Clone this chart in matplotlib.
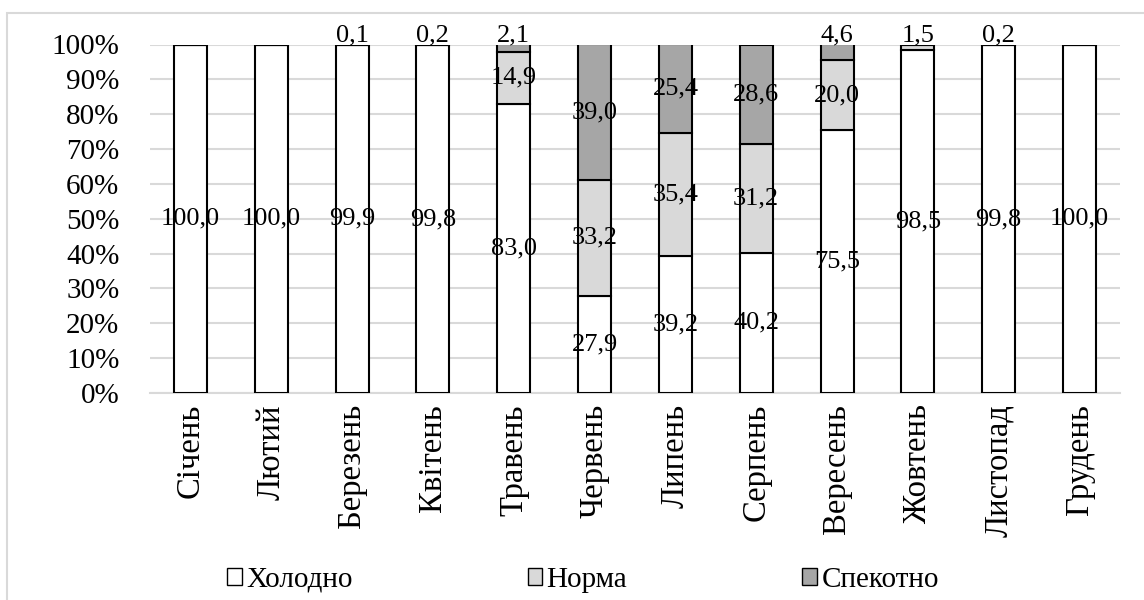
import matplotlib
matplotlib.use("Agg")
import matplotlib.pyplot as plt
from matplotlib.patches import Patch, Rectangle
import numpy as np

plt.rcParams['font.family'] = ['Liberation Serif', 'DejaVu Serif']

months = ["Січень", "Лютий", "Березень", "Квітень", "Травень", "Червень",
          "Липень", "Серпень", "Вересень", "Жовтень", "Листопад", "Грудень"]
series_names = ["Холодно", "Норма", "Спекотно"]
cold = [100.0, 100.0, 99.9, 99.8, 83.0, 27.9, 39.2, 40.2, 75.5, 98.5, 99.8, 100.0]
norm = [0.0, 0.0, 0.1, 0.2, 14.9, 33.2, 35.4, 31.2, 20.0, 1.5, 0.2, 0.0]
hot = [0.0, 0.0, 0.0, 0.0, 2.1, 39.0, 25.4, 28.6, 4.6, 0.0, 0.0, 0.0]
colors = ["#ffffff", "#d9d9d9", "#a6a6a6"]

fig = plt.figure(figsize=(11.44, 6), dpi=100)
ax = fig.add_axes([150/1144, 207/600, 970/1144, 348.5/600])

x = np.arange(len(months))
bottom = np.zeros(len(months))
for vals, col, name in zip([cold, norm, hot], colors, series_names):
    vals = np.array(vals)
    ax.bar(x, vals, bottom=bottom, width=0.41, color=col, edgecolor="black",
           linewidth=1.5, label=name, zorder=3)
    for i, v in enumerate(vals):
        if v <= 0:
            continue
        lab = f"{v:.1f}".replace(".", ",")
        if v < 5:
            ax.text(i, 100.8, lab, ha="center", va="baseline", fontsize=19, zorder=4)
        else:
            ax.text(i, bottom[i] + v / 2, lab, ha="center", va="center", fontsize=19, zorder=4)
    bottom = bottom + vals

ax.set_xlim(-0.5, len(months) - 0.5)
ax.set_ylim(0, 100)
ax.set_yticks(range(0, 101, 10))
ax.set_yticklabels([f"{t}%" for t in range(0, 101, 10)], fontsize=21)
ax.set_xticks(x)
ax.set_xticklabels(months, rotation=90, fontsize=23.5)
ax.tick_params(length=0)
ax.tick_params(axis="x", pad=8)
ax.tick_params(axis="y", pad=22)
ax.grid(axis="y", color="#d9d9d9", linewidth=1.5, zorder=0)
for s in ["top", "right", "left"]:
    ax.spines[s].set_visible(False)
ax.spines["bottom"].set_color("#d9d9d9")
ax.spines["bottom"].set_linewidth(1.5)

handles = [Patch(facecolor=c, edgecolor="black", linewidth=1) for c in colors]
fig.legend(handles, series_names, loc="center", bbox_to_anchor=(0.5 + 11/1144, 1 - 580/600),
           ncol=3, frameon=False, fontsize=21, handlelength=0.5, handleheight=0.5,
           handletextpad=0.15, columnspacing=6)

fig.patches.append(Rectangle((7/1144, -0.1), 1.2, 1 - 12.5/600 + 0.1, transform=fig.transFigure,
                             fill=False, edgecolor="#d9d9d9", linewidth=1.5))

fig.savefig("out.png", dpi=100)
